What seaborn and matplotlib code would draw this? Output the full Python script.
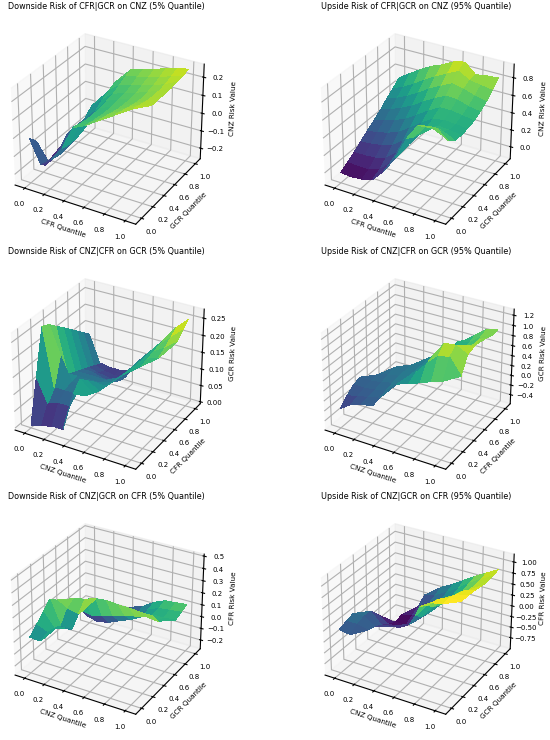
import numpy as np
import matplotlib
matplotlib.use("Agg")
import matplotlib.pyplot as plt
import seaborn as sns

nan = np.nan

quantiles = [0.0, 0.11, 0.22, 0.33, 0.44, 0.56, 0.67, 0.78, 0.89, 1.0]
axis_ticks = [0.0, 0.2, 0.4, 0.6, 0.8, 1.0]

titles = [
    "Downside Risk of CFR|GCR on CNZ (5% Quantile)",
    "Upside Risk of CFR|GCR on CNZ (95% Quantile)",
    "Downside Risk of CNZ|CFR on GCR (5% Quantile)",
    "Upside Risk of CNZ|CFR on GCR (95% Quantile)",
    "Downside Risk of CNZ|GCR on CFR (5% Quantile)",
    "Upside Risk of CNZ|GCR on CFR (95% Quantile)",
]
x_labels = ["CFR Quantile", "CFR Quantile", "CNZ Quantile", "CNZ Quantile", "CNZ Quantile", "CNZ Quantile"]
y_labels = ["GCR Quantile", "GCR Quantile", "CFR Quantile", "CFR Quantile", "GCR Quantile", "GCR Quantile"]
z_labels = ["CNZ Risk Value", "CNZ Risk Value", "GCR Risk Value", "GCR Risk Value", "CFR Risk Value", "CFR Risk Value"]

z_ticks = [
    [-0.2, -0.1, 0.0, 0.1, 0.2],
    [0.0, 0.2, 0.4, 0.6, 0.8],
    [0.00, 0.05, 0.10, 0.15, 0.20, 0.25],
    [-0.4, -0.2, 0.0, 0.2, 0.4, 0.6, 0.8, 1.0, 1.2],
    [-0.2, -0.1, 0.0, 0.1, 0.2, 0.3, 0.4, 0.5],
    [-0.75, -0.50, -0.25, 0.00, 0.25, 0.50, 0.75, 1.00],
]
z_limits = [(-0.261, 0.271), (-0.142, 0.952), (-0.006, 0.276), (-0.588, 1.318), (-0.276, 0.516), (-1.014, 1.174)]
color_ranges = [(-0.24, 0.29), (-0.05, 0.95), (0.0, 0.25), (-0.45, 1.25), (-0.13, 0.2), (-0.35, 0.9)]

# each list is one x-quantile column; entries run along the y quantile
cols_downside_cnz = [
    [-0.01, -0.06, -0.23, nan, nan, nan, nan, nan, nan, nan],
    [-0.14, -0.15, -0.16, -0.13, -0.09, nan, nan, nan, nan, nan],
    [-0.09, -0.10, -0.10, -0.08, -0.05, -0.02, 0.02, nan, nan, nan],
    [-0.01, -0.02, -0.02, -0.01, 0.01, 0.04, 0.07, 0.09, 0.11, nan],
    [0.12, 0.11, 0.10, 0.10, 0.10, 0.11, 0.12, 0.14, 0.16, 0.174],
    [0.15, 0.14, 0.135, 0.13, 0.13, 0.135, 0.14, 0.155, 0.175, 0.19],
    [0.19, 0.18, 0.17, 0.16, 0.155, 0.155, 0.16, 0.175, 0.19, 0.207],
    [nan, 0.21, 0.20, 0.19, 0.18, 0.175, 0.18, 0.19, 0.205, 0.224],
    [nan, nan, 0.23, 0.22, 0.21, 0.205, 0.205, 0.21, 0.225, 0.24],
    [nan, nan, nan, 0.235, 0.235, 0.235, 0.235, 0.24, 0.245, 0.255],
]
cols_upside_cnz = [
    [-0.02, 0.03, 0.08, 0.14, 0.20, 0.26, 0.32, 0.39, 0.45, 0.52],
    [-0.03, 0.02, 0.08, 0.15, 0.22, 0.29, 0.36, 0.43, 0.50, 0.60],
    [-0.02, 0.02, 0.09, 0.17, 0.25, 0.33, 0.41, 0.49, 0.57, 0.68],
    [0.02, 0.06, 0.13, 0.21, 0.30, 0.38, 0.47, 0.56, 0.65, 0.75],
    [0.15, 0.18, 0.23, 0.30, 0.38, 0.46, 0.55, 0.64, 0.72, 0.80],
    [0.35, 0.35, 0.37, 0.42, 0.48, 0.55, 0.63, 0.71, 0.79, 0.87],
    [0.60, 0.55, 0.52, 0.52, 0.56, 0.62, 0.69, 0.77, 0.85, 0.90],
    [0.78, 0.70, 0.62, 0.58, 0.58, 0.62, 0.68, 0.74, 0.78, 0.79],
    [0.80, 0.72, 0.62, 0.57, 0.57, 0.60, 0.64, 0.70, 0.76, 0.81],
    [0.75, 0.62, 0.56, 0.55, 0.56, 0.58, 0.62, 0.67, 0.74, 0.82],
]
cols_downside_gcr = [
    [0.00, 0.13, 0.26, 0.25, 0.23, 0.21, 0.19, 0.17, 0.15, 0.13],
    [0.01, 0.06, 0.09, 0.17, 0.10, 0.09, 0.08, 0.07, 0.06, 0.05],
    [0.02, 0.07, 0.09, 0.10, 0.10, 0.09, 0.08, 0.06, 0.05, 0.045],
    [0.02, 0.07, 0.09, 0.10, 0.10, 0.09, 0.07, 0.055, 0.045, 0.045],
    [0.135, 0.16, 0.14, 0.12, 0.10, 0.09, 0.07, 0.055, 0.05, 0.055],
    [0.14, 0.13, 0.12, 0.117, 0.112, 0.108, 0.105, 0.104, 0.104, 0.105],
    [nan, nan, nan, nan, 0.144, 0.14, 0.138, 0.137, 0.138, 0.14],
    [nan, nan, nan, nan, nan, 0.16, 0.165, 0.17, 0.175, 0.18],
    [nan, nan, nan, nan, nan, nan, 0.178, 0.19, 0.205, 0.221],
    [nan, nan, nan, nan, nan, nan, nan, 0.215, 0.235, 0.252],
]
cols_upside_gcr = [
    [-0.19, -0.05, 0.06, 0.10, nan, nan, nan, nan, nan, nan],
    [-0.05, 0.00, 0.05, 0.08, 0.10, nan, nan, nan, nan, nan],
    [0.03, 0.05, 0.08, 0.12, 0.16, 0.20, nan, nan, nan, nan],
    [0.06, 0.10, 0.13, 0.17, 0.20, 0.20, 0.20, nan, nan, nan],
    [nan, nan, 0.33, 0.30, 0.28, 0.27, 0.28, 0.30, nan, nan],
    [nan, nan, 0.41, 0.50, 0.45, 0.40, 0.40, 0.40, 0.37, nan],
    [nan, nan, 0.49, 0.75, 0.80, 0.60, 0.50, 0.50, 0.65, 0.56],
    [nan, nan, 0.58, 0.95, 1.10, 0.90, 0.70, 0.65, 0.68, 0.73],
    [nan, nan, 0.65, 1.00, 1.12, 1.00, 0.85, 0.80, 0.85, 0.90],
    [nan, nan, nan, 0.70, 1.00, 1.05, 1.08, 1.00, 0.95, 0.95],
]
cols_downside_cfr = [
    [0.024, 0.08, 0.14, 0.20, 0.15, nan, nan, nan, nan, nan],
    [0.02, 0.04, 0.03, 0.00, 0.10, 0.14, 0.00, -0.10, -0.12, -0.12],
    [nan, 0.12, 0.06, 0.00, 0.08, 0.16, -0.02, -0.12, -0.13, -0.12],
    [nan, nan, nan, nan, nan, 0.19, 0.00, -0.10, -0.12, -0.08],
    [nan, nan, nan, nan, nan, 0.20, 0.03, -0.06, -0.07, -0.035],
    [nan, nan, nan, nan, nan, 0.19, 0.06, -0.02, -0.02, 0.00],
    [nan, nan, nan, nan, nan, 0.19, 0.08, 0.03, 0.04, 0.06],
    [nan, nan, nan, nan, nan, 0.18, 0.10, 0.07, 0.08, 0.10],
    [nan, nan, nan, nan, nan, 0.18, 0.09, 0.07, 0.09, 0.11],
    [nan, nan, nan, nan, nan, nan, nan, 0.08, 0.10, 0.12],
]
cols_upside_cfr = [
    [-0.01, 0.05, 0.10, nan, nan, nan, nan, nan, nan, nan],
    [-0.05, 0.05, 0.10, 0.10, -0.10, nan, nan, nan, nan, nan],
    [nan, 0.00, -0.05, -0.15, -0.25, -0.35, -0.30, nan, nan, nan],
    [nan, nan, nan, -0.10, -0.25, -0.35, -0.25, -0.15, -0.01, nan],
    [nan, nan, nan, nan, -0.10, -0.15, -0.10, 0.00, 0.05, 0.12],
    [nan, nan, nan, 0.30, 0.15, 0.10, 0.10, 0.15, 0.20, 0.27],
    [nan, nan, 0.70, 0.60, 0.45, 0.35, 0.30, 0.30, 0.35, 0.43],
    [nan, nan, 0.85, 0.80, 0.70, 0.60, 0.50, 0.50, 0.55, 0.59],
    [nan, nan, 0.90, 0.90, 0.85, 0.80, 0.70, 0.68, 0.70, 0.73],
    [nan, nan, nan, 0.90, 0.90, 0.88, 0.85, 0.82, 0.84, 0.87],
]
surfaces = [cols_downside_cnz, cols_upside_cnz, cols_downside_gcr,
            cols_upside_gcr, cols_downside_cfr, cols_upside_cfr]

cmap = sns.color_palette("viridis", as_cmap=True)
fig = plt.figure(figsize=(5.5, 7.4), dpi=100)
X, Y = np.meshgrid(quantiles, quantiles)

col_left = [-0.0236, 0.540]
row_bottom = [0.669, 0.3379, 0.0068]
ax_w, ax_h = 0.433, 0.316

for k in range(6):
    r, c = divmod(k, 2)
    ax = fig.add_axes([col_left[c], row_bottom[r], ax_w, ax_h], projection='3d')
    ax.set_box_aspect((4, 4, 3.19), zoom=0.933)
    Z = np.array(surfaces[k], dtype=float).T
    vmin, vmax = color_ranges[k]
    ax.plot_surface(X, Y, Z, cmap=cmap, vmin=vmin, vmax=vmax,
                    linewidth=0, antialiased=False)
    ax.set_xlim(-0.1, 1.1)
    ax.set_ylim(-0.1, 1.1)
    ax.set_zlim(*z_limits[k])
    ax.set_xticks(axis_ticks)
    ax.set_yticks(axis_ticks)
    ax.set_zticks(z_ticks[k])
    ax.tick_params(labelsize=5, pad=-1)
    ax.set_xlabel(x_labels[k], fontsize=5.2, labelpad=-8)
    ax.set_ylabel(y_labels[k], fontsize=5.2, labelpad=-7)
    ax.set_zlabel(z_labels[k], fontsize=5.2, labelpad=-6)
    ax.set_title(titles[k], fontsize=5.8, pad=-0.5)

fig.savefig("out.png", dpi=100)
